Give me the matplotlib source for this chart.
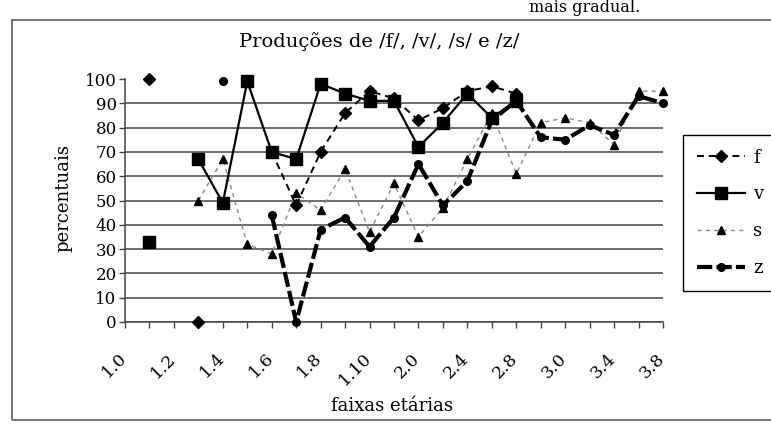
import numpy as np
import matplotlib
matplotlib.use("Agg")
import matplotlib.pyplot as plt
from matplotlib.patches import Rectangle
from matplotlib.transforms import ScaledTranslation

nan = np.nan
categories = ['1.0', '1.1', '1.2', '1.3', '1.4', '1.5', '1.6', '1.7', '1.8', '1.9',
              '1.10', '1.11', '2.0', '2.2', '2.4', '2.6', '2.8', '2.10',
              '3.0', '3.2', '3.4', '3.6', '3.8']
f_vals = [nan, 100, nan, 0, nan, nan, 70, 48, 70, 86, 95, 92, 83, 88, 95, 97, 94,
          nan, nan, nan, nan, nan, nan]
v_vals = [nan, 33, nan, 67, 49, 99, 70, 67, 98, 94, 91, 91, 72, 82, 94, 84, 91,
          nan, nan, nan, nan, nan, nan]
s_vals = [nan, nan, nan, 50, 67, 32, 28, 53, 46, 63, 37, 57, 35, 47, 67, 86, 61,
          82, 84, 82, 73, 95, 95]
z_vals = [nan, nan, nan, nan, 99, nan, 44, 0, 38, 43, 31, 43, 65, 48, 58, 83, 91,
          76, 75, 81, 77, 93, 90]
y_ticks = list(range(0, 101, 10))
title = "Produções de /f/, /v/, /s/ e /z/"
xlabel = "faixas etárias"
ylabel = "percentuais"
top_text = "mais gradual."

plt.rcParams['font.family'] = ['DejaVu Serif']
plt.rcParams['lines.scale_dashes'] = False

W, H = 771, 429
fig = plt.figure(figsize=(W / 100, H / 100), dpi=100)
fig.patch.set_facecolor('white')

L, R, T, B = 125, 663, 79, 322
ax = fig.add_axes([L / W, 1 - B / H, (R - L) / W, (B - T) / H])
x = np.arange(len(categories))

ax.plot(x, f_vals, color='black', lw=1.4, linestyle=(0, (5, 3.5)), marker='D', ms=6.5,
        label='f', clip_on=False, zorder=4)
ax.plot(x, v_vals, color='black', lw=1.6, linestyle='-', marker='s', ms=8.5,
        label='v', clip_on=False, zorder=5)
ax.plot(x, s_vals, color='#888888', lw=1.0, linestyle=(0, (3, 3)), marker='^', ms=6,
        mfc='black', mec='black', label='s', clip_on=False, zorder=3)
ax.plot(x, z_vals, color='black', lw=3.0, linestyle=(0, (11, 3)), marker='o', ms=5.5,
        label='z', clip_on=False, zorder=6)

ax.set_xlim(0, len(categories) - 1)
ax.set_ylim(0, 100)
ax.set_yticks(y_ticks)
ax.set_yticklabels([str(t) for t in y_ticks])
ax.set_xticks(x)
ax.set_xticklabels([c if i % 2 == 0 else '' for i, c in enumerate(categories)],
                   rotation=45, ha='right', va='top', rotation_mode='anchor')
ax.yaxis.grid(True, color='#555555', lw=1.2)
ax.get_ygridlines()[-1].set_visible(False)
ax.set_axisbelow(True)
for sp in ['top', 'right']:
    ax.spines[sp].set_visible(False)
for sp in ['left', 'bottom']:
    ax.spines[sp].set_color('#444444')
    ax.spines[sp].set_linewidth(1.1)
ax.tick_params(axis='y', direction='out', length=4, width=1, color='#444444',
               pad=2, labelsize=12)
ax.tick_params(axis='x', direction='out', length=4, width=1, color='#444444',
               pad=16, labelsize=12.5)
off = ScaledTranslation(-7 / 100, 0, fig.dpi_scale_trans)
for lab in ax.get_xticklabels():
    lab.set_transform(lab.get_transform() + off)

fig.text(379 / W, 1 - 42 / H, title, ha='center', va='center', fontsize=14)
fig.text(392 / W, 1 - 406 / H, xlabel, ha='center', va='center', fontsize=13)
fig.text(63 / W, 1 - 198 / H, ylabel, ha='center', va='center', fontsize=13,
         rotation=90)
fig.text(640 / W, 1 - 8 / H, top_text, ha='right', va='center', fontsize=11.5)

fig.patches.append(Rectangle((12 / W, 1 - 420 / H), 1.2, 400 / H, transform=fig.transFigure,
                             fill=False, edgecolor='#777777', lw=1.5))

leg = fig.legend(loc='upper left', bbox_to_anchor=(683 / W, 1 - 135 / H),
                 bbox_transform=fig.transFigure, frameon=True, fancybox=False,
                 edgecolor='black', framealpha=1, fontsize=13, handlelength=2.7,
                 labelspacing=1.05, borderpad=0.75, handletextpad=0.45,
                 borderaxespad=0)
leg.get_frame().set_linewidth(1.0)

fig.savefig('out.png', dpi=100, facecolor='white')
